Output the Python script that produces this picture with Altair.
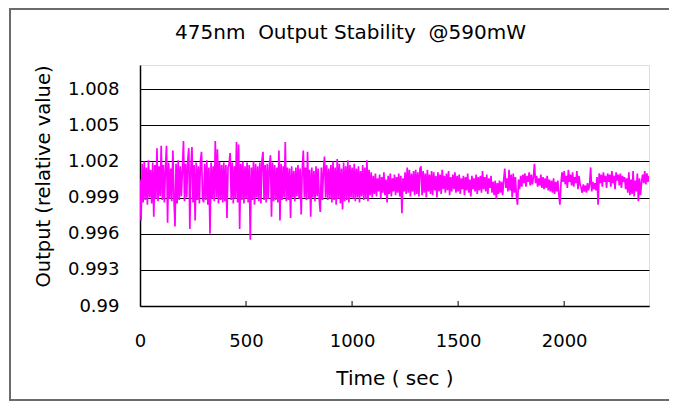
import altair as alt
import pandas as pd

# ---- data ----
SAMPLE_STEP_SEC = 5
# deviations of the relative output from 1.000, in units of 1e-4 (0.999 -> -10)
dev_0000_0495 = [
    5, -29, 18, -14, 20, -12, 15, -16, 21, -10, 13, -15, 19, -26, 17, -11, 31, -13, 16, -9,
    33, -12, 17, -14, 15, 33, -31, 19, -11, 14, -13, 29, -10, -34, 18, -15, 21, -12, 16, -9,
    14, 37, -13, 18, -10, 20, 31, -36, 15, 32, -14, 17, -29, 19, -12, 16, -15, 20, 28, -11,
    -14, 18, -12, 21, -16, 15, -40, 19, -11, 16, -13, 37, -10, 30, -15, 20, -12, 17, -14, 19,
    -13, 17, -27, 15, 18, 27, -12, 19, -15, 16, -11, 36, -14, 34, -36, 18, -12, 20, -15, 16,
]
dev_0500_0995 = [
    -11, 19, -14, 17, -45, 15, -12, 20, -16, 18, -10, 16, -13, 19, -15, 21, 28, -12, 17, -14,
    18, -11, 16, 25, -26, 19, -13, 17, -12, 15, -14, 29, -29, 18, -12, 16, -10, 36, -13, 15,
    -12, 14, -27, 16, -10, 12, -13, 15, -9, 17, -11, 14, -24, 13, 29, -10, 15, -12, 28, -11,
    13, -26, 15, -10, 12, -13, 16, -9, 14, -11, -22, 15, -12, 13, 24, -10, 17, -12, 14, -11,
    17, -14, 20, -12, 15, -16, 22, -11, 18, -15, 14, -20, 19, -13, 16, -12, 21, -14, 17, -10,
]
dev_1000_1495 = [
    15, -11, 18, -13, 14, -10, 16, -14, 12, -9, 17, -12, 15, -11, 21, -13, 13, -8, 11, -10,
    8, -7, 10, -9, 6, -5, 9, -11, 7, -6, 11, -8, 5, -14, 8, -7, 10, -9, 6, -5,
    9, -8, 7, -6, 10, -9, 8, -23, 6, -5, 11, -7, 15, -6, 13, -9, 10, -5, 12, -8,
    13, -7, 11, -9, 14, 16, -8, 12, -6, 10, -10, 13, -5, 9, -7, 12, -8, 11, -4, 8,
    -10, 11, -5, 9, -7, 13, -3, 8, -6, 10, -4, 12, -8, 7, -5, 9, -3, 11, -6, 8,
]
dev_1500_1995 = [
    -5, 9, -7, 6, -3, 8, -8, 7, -4, 10, -6, 5, -9, 8, -3, 6, -5, 9, -7, 7,
    -4, 8, -6, 12, -3, 7, -5, 9, -7, 6, -2, 8, -6, 3, -8, 4, -11, 2, -7, 4,
    -6, 3, -8, 5, 14, -2, 6, -5, 13, -4, 9, -10, 10, -6, 7, -9, -16, 5, -3, 8,
    -1, 9, 2, 10, -1, 8, 3, 11, 0, 9, 1, 7, 18, 2, 8, -1, 6, 0, 9, -2,
    7, -3, 6, -2, 8, -4, 5, -5, 4, -6, 6, -7, 3, -5, 4, -8, -16, 2, 11, 3,
]
dev_2000_2400 = [
    12, 1, 8, -2, 13, 3, 9, 0, 11, -1, 7, 2, 12, -3, 8, 1, -2, -6, 1, -5,
    0, -6, 2, -4, 1, 15, -5, 3, -3, 2, -4, 7, -16, 10, 2, 9, -1, 11, 3, 8,
    -2, 10, 3, 9, -1, 12, 2, 8, -3, 11, 4, 9, 0, 10, -2, 8, 3, 7, -3, 6,
    -6, 11, -8, 5, -7, 12, -9, 4, -5, 10, -13, 6, -8, 3, 9, 2, 12, 1, 10, 3,
    8,
]

x_tick_values = [0, 500, 1000, 1500, 2000]
y_tick_values = [0.99, 0.993, 0.996, 0.999, 1.002, 1.005, 1.008]
title_text = "475nm\u00a0 Output Stability\u00a0 @590mW"
x_title = "Time ( sec )"
y_title = "Output (relative value)"

devs = dev_0000_0495 + dev_0500_0995 + dev_1000_1495 + dev_1500_1995 + dev_2000_2400
time_sec = [i * SAMPLE_STEP_SEC for i in range(len(devs))]
output = [round(1 + d / 10000, 4) for d in devs]
df = pd.DataFrame({"Time": time_sec, "Output": output})

FONT = "DejaVu Sans"
W, H = 509, 241

x_scale = alt.Scale(domain=[0, 2400], nice=False, zero=False)
y_scale = alt.Scale(domain=[0.99, 1.01], nice=False, zero=False)

line = alt.Chart(df).mark_line(color="#FF00FF", strokeWidth=1.7, clip=True).encode(
    x=alt.X("Time:Q", scale=x_scale,
            axis=alt.Axis(values=x_tick_values, format="d", title=x_title, grid=False,
                          ticks=False, tickSize=0, labelPadding=26, labelFlush=False,
                          labelFont=FONT, labelFontSize=18, labelColor="#000000",
                          titleFont=FONT, titleFontSize=20, titleFontWeight="normal",
                          titleColor="#000000", titleY=72, titleBaseline="middle",
                          domainColor="#000000", domainWidth=1.5)),
    y=alt.Y("Output:Q", scale=y_scale,
            axis=alt.Axis(values=y_tick_values, format=".3~f", title=y_title,
                          grid=True, gridColor="#000000", gridWidth=1, gridOpacity=1,
                          ticks=False, tickSize=0, labelPadding=21, labelFlush=False,
                          labelFont=FONT, labelFontSize=18, labelColor="#000000",
                          titleFont=FONT, titleFontSize=19.5, titleFontWeight="normal",
                          titleColor="#000000", titleX=-97, titleY=111,
                          titleAngle=270, titleBaseline="middle", titleAlign="center",
                          domainColor="#000000", domainWidth=1.5)),
)

tick_marks = alt.Chart(pd.DataFrame({"Time": x_tick_values[1:]})).mark_rule(
    color="#000000", strokeWidth=1
).encode(x=alt.X("Time:Q", scale=x_scale), y=alt.value(H), y2=alt.value(H - 5))

FRAME_COLOR = "#6b6b6b"
frame_top = alt.Chart(alt.Data(values=[{}])).mark_rule(
    color=FRAME_COLOR, strokeWidth=2, clip=False
).encode(x=alt.value(-131), x2=alt.value(W + 40), y=alt.value(-56))
frame_bottom = alt.Chart(alt.Data(values=[{}])).mark_rule(
    color=FRAME_COLOR, strokeWidth=2, clip=False
).encode(x=alt.value(-131), x2=alt.value(W + 40), y=alt.value(335))
frame_left = alt.Chart(alt.Data(values=[{}])).mark_rule(
    color=FRAME_COLOR, strokeWidth=2, clip=False
).encode(x=alt.value(-130), y=alt.value(-57), y2=alt.value(336))

chart = alt.layer(frame_top, frame_bottom, frame_left, line, tick_marks).properties(
    width=W, height=H,
    title=alt.TitleParams(title_text, font=FONT, fontSize=20, fontWeight="normal",
                          color="#000000", anchor="middle", dx=-44, offset=-36),
    padding={"left": 132, "top": 57, "right": 20, "bottom": 96},
    autosize=alt.AutoSizeParams(type="none"),
).configure_view(
    fill="#C0C0C0", stroke="#808080", strokeWidth=1.5
).configure(background="#FFFFFF")

chart.save("out.html", embed_options={"renderer": "svg", "actions": False})
